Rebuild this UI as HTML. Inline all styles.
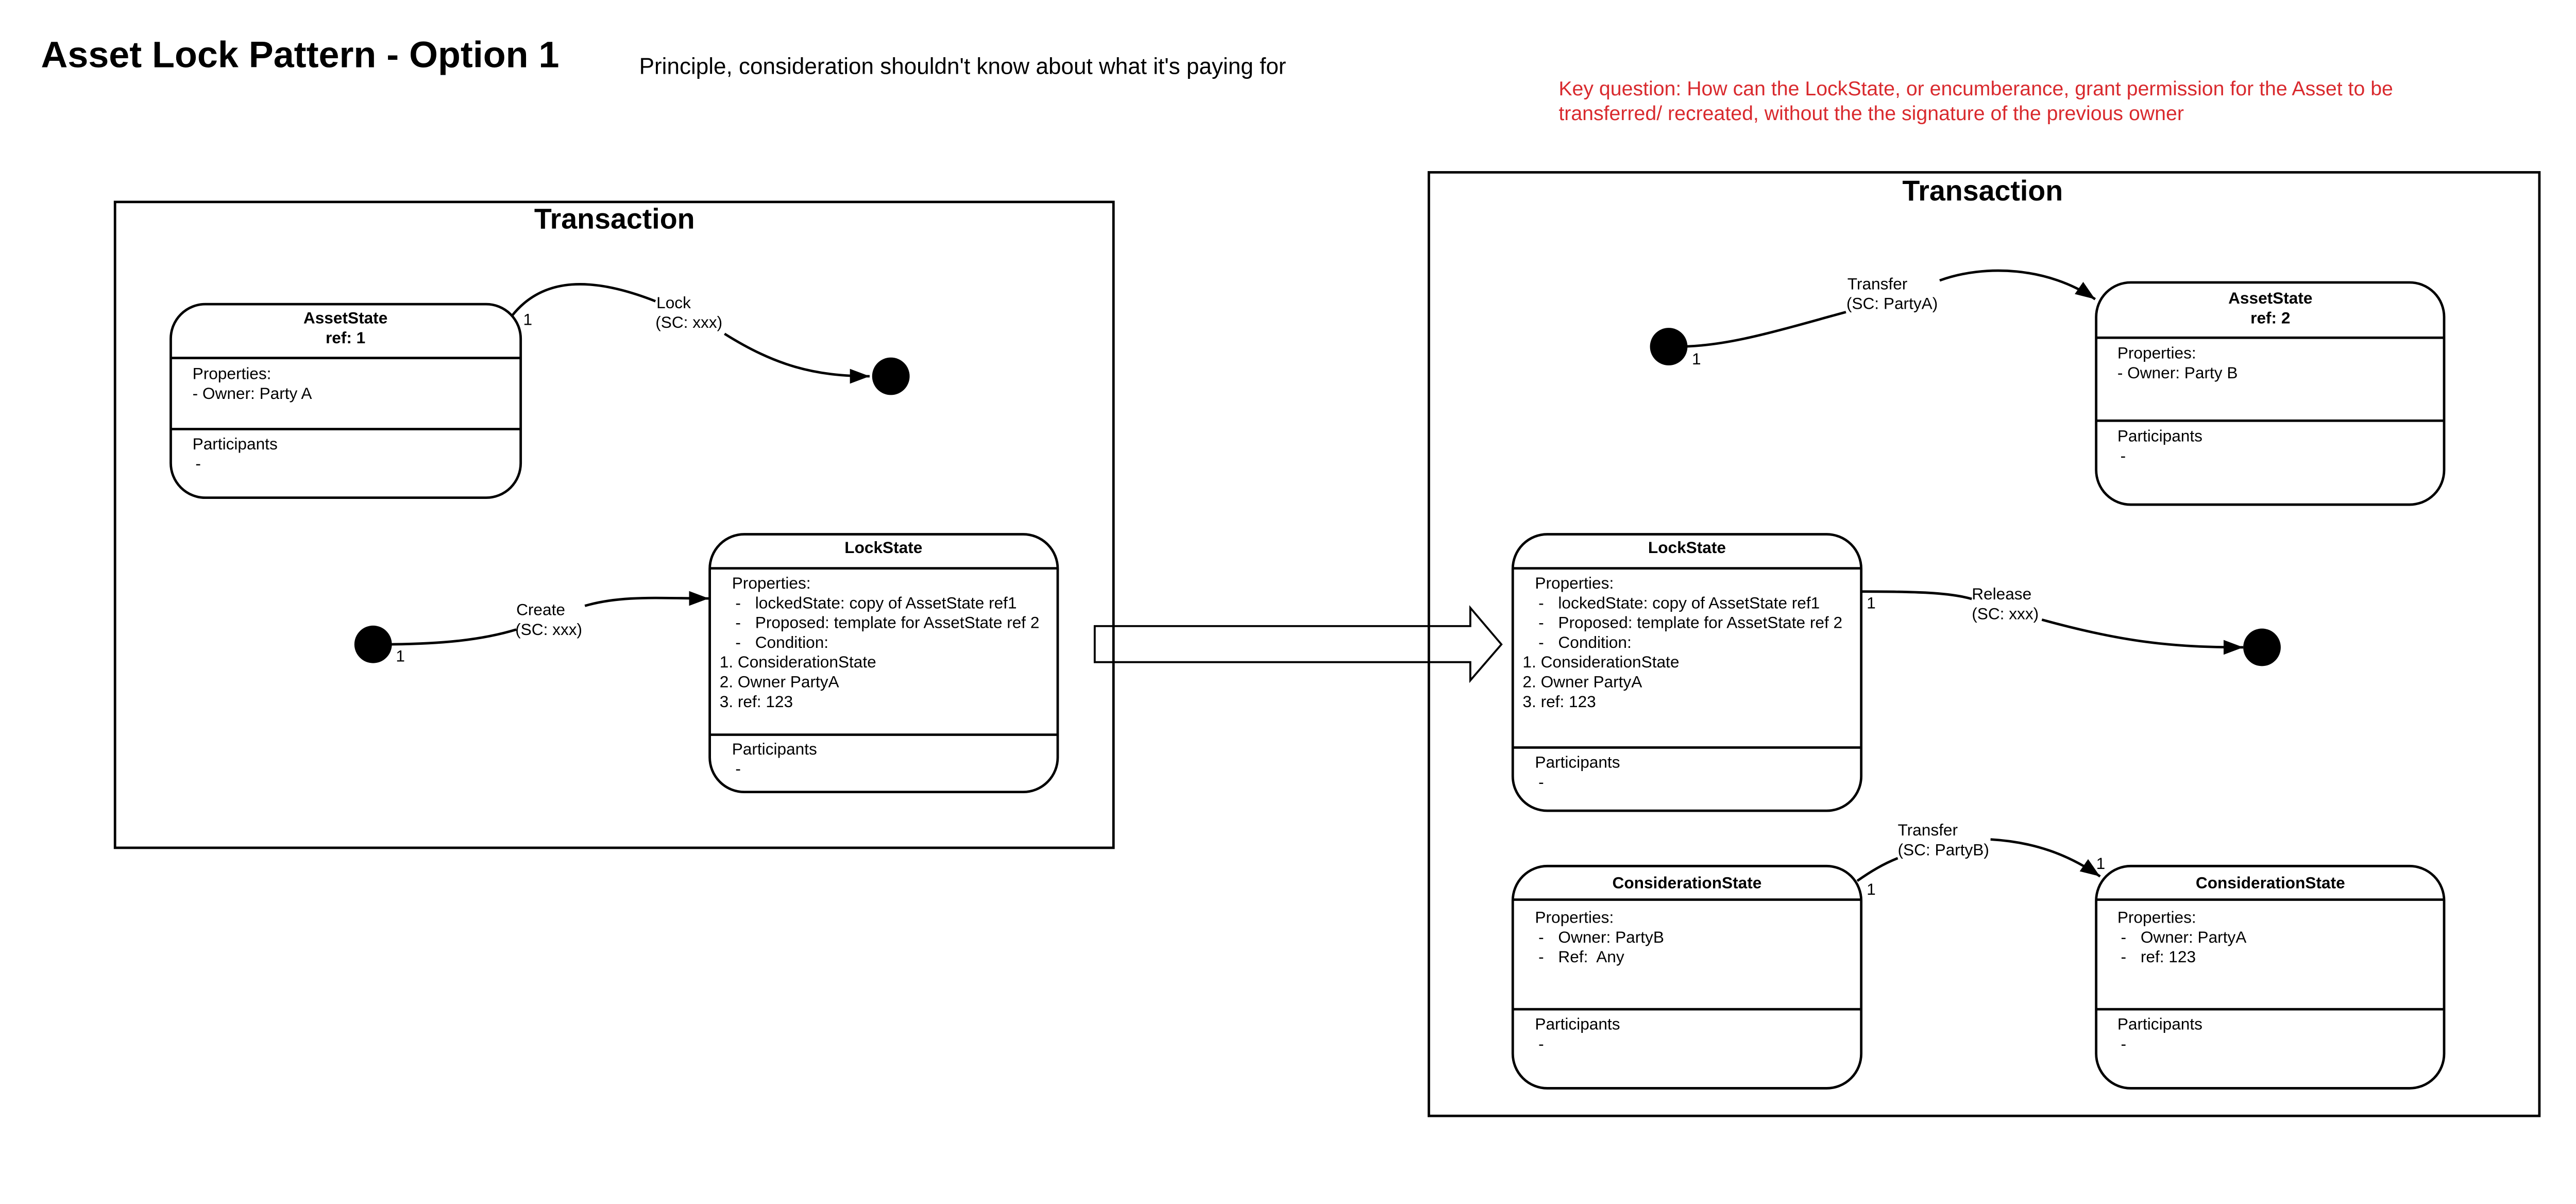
<!DOCTYPE html>
<html><head><meta charset="utf-8"><style>
html,body{margin:0;padding:0;background:#fff;}
svg{display:block;font-family:"Liberation Sans",sans-serif;}
</style></head><body>
<svg width="5218" height="2336" viewBox="0 0 5218 2336" xmlns="http://www.w3.org/2000/svg">
<defs>
<marker id="a" viewBox="0 0 10 10" refX="10" refY="5" markerWidth="40" markerHeight="30" markerUnits="userSpaceOnUse" orient="auto" preserveAspectRatio="none"><path d="M0,0 L10,5 L0,10 z" fill="#000"/></marker></defs>
<rect width="5218" height="2336" fill="#fff"/>
<g transform="scale(0.958)">
<text x="83" y="136" font-size="75" font-weight="bold">Asset Lock Pattern - Option 1</text>
<text x="1295" y="150" font-size="46">Principle, consideration shouldn't know about what it's paying for</text>
<text x="3158" y="193" font-size="41" fill="#d92a2e">Key question: How can the LockState, or encumberance, grant permission for the Asset to be</text>
<text x="3158" y="243" font-size="41" fill="#d92a2e">transferred/ recreated, without the the signature of the previous owner</text>

<g fill="none" stroke="#000" stroke-width="5">
<rect x="233" y="409" width="2023" height="1308"/>
<rect x="2895" y="349" width="2250" height="1911"/>
<rect x="346" y="616" width="709" height="392" rx="70"/>
<line x1="346" y1="725" x2="1055" y2="725"/><line x1="346" y1="869" x2="1055" y2="869"/>
<rect x="1438" y="1082" width="705" height="522" rx="70"/>
<line x1="1438" y1="1151" x2="2143" y2="1151"/><line x1="1438" y1="1488" x2="2143" y2="1488"/>
<rect x="4247" y="572" width="705" height="450" rx="70"/>
<line x1="4247" y1="684" x2="4952" y2="684"/><line x1="4247" y1="852" x2="4952" y2="852"/>
<rect x="3065" y="1082" width="706" height="560" rx="70"/>
<line x1="3065" y1="1151" x2="3771" y2="1151"/><line x1="3065" y1="1514" x2="3771" y2="1514"/>
<rect x="3065" y="1754" width="706" height="450" rx="70"/>
<line x1="3065" y1="1822" x2="3771" y2="1822"/><line x1="3065" y1="2044" x2="3771" y2="2044"/>
<rect x="4247" y="1754" width="705" height="450" rx="70"/>
<line x1="4247" y1="1822" x2="4952" y2="1822"/><line x1="4247" y1="2044" x2="4952" y2="2044"/>
<path d="M2218,1268 L2979,1268 L2979,1231 L3042,1305 L2979,1378 L2979,1341 L2218,1341 Z" stroke-width="4"/>
<path d="M1037,640 C1100,560 1200,560 1328,610"/>
<path d="M1468,676 C1570,740 1650,762 1762,762" marker-end="url(#a)"/>
<path d="M770,1305 C900,1305 980,1295 1046,1275"/>
<path d="M1185,1227 C1260,1205 1340,1212 1436,1212" marker-end="url(#a)"/>
<path d="M3398,702 C3500,702 3600,670 3740,632"/>
<path d="M3930,568 C4020,535 4150,540 4245,606" marker-end="url(#a)"/>
<path d="M3773,1198 C3880,1198 3950,1200 3995,1213"/>
<path d="M4137,1255 C4300,1300 4400,1311 4545,1311" marker-end="url(#a)"/>
<path d="M3763,1784 C3790,1765 3815,1750 3845,1738"/>
<path d="M4033,1700 C4120,1705 4190,1730 4255,1775" marker-end="url(#a)"/>
</g>
<g fill="#000">
<circle cx="1805" cy="762" r="38"/>
<circle cx="756" cy="1305" r="38"/>
<circle cx="3381" cy="702" r="38"/>
<circle cx="4583" cy="1311" r="38"/>
</g>
<g font-size="58" font-weight="bold" text-anchor="middle">
<text x="1245" y="463">Transaction</text>
<text x="4017" y="406">Transaction</text>
</g>
<g font-size="33" font-weight="bold" text-anchor="middle">
<text x="700" y="655">AssetState</text><text x="700" y="695">ref: 1</text>
<text x="1790" y="1120">LockState</text>
<text x="4600" y="615">AssetState</text><text x="4600" y="655">ref: 2</text>
<text x="3418" y="1120">LockState</text>
<text x="3418" y="1799">ConsiderationState</text>
<text x="4600" y="1799">ConsiderationState</text>
</g>
<g font-size="33">
<text x="390" y="768">Properties:</text><text x="390" y="808">- Owner: Party A</text>
<text x="390" y="910">Participants</text><text x="396" y="950">-</text>
<text x="1483" y="1192">Properties:</text>
<text x="1490" y="1232">-</text><text x="1530" y="1232">lockedState: copy of AssetState ref1</text>
<text x="1490" y="1272">-</text><text x="1530" y="1272">Proposed: template for AssetState ref 2</text>
<text x="1490" y="1312">-</text><text x="1530" y="1312">Condition:</text>
<text x="1458" y="1352">1. ConsiderationState</text>
<text x="1458" y="1392">2. Owner PartyA</text>
<text x="1458" y="1432">3. ref: 123</text>
<text x="1483" y="1528">Participants</text><text x="1490" y="1568">-</text>
<text x="4290" y="726">Properties:</text><text x="4290" y="766">- Owner: Party B</text>
<text x="4290" y="894">Participants</text><text x="4296" y="934">-</text>
<text x="3110" y="1192">Properties:</text>
<text x="3117" y="1232">-</text><text x="3157" y="1232">lockedState: copy of AssetState ref1</text>
<text x="3117" y="1272">-</text><text x="3157" y="1272">Proposed: template for AssetState ref 2</text>
<text x="3117" y="1312">-</text><text x="3157" y="1312">Condition:</text>
<text x="3085" y="1352">1. ConsiderationState</text>
<text x="3085" y="1392">2. Owner PartyA</text>
<text x="3085" y="1432">3. ref: 123</text>
<text x="3110" y="1555">Participants</text><text x="3117" y="1595">-</text>
<text x="3110" y="1869">Properties:</text>
<text x="3117" y="1909">-</text><text x="3157" y="1909">Owner: PartyB</text>
<text x="3117" y="1949">-</text><text x="3157" y="1949">Ref:&#160; Any</text>
<text x="3110" y="2085">Participants</text><text x="3117" y="2125">-</text>
<text x="4290" y="1869">Properties:</text>
<text x="4297" y="1909">-</text><text x="4337" y="1909">Owner: PartyA</text>
<text x="4297" y="1949">-</text><text x="4337" y="1949">ref: 123</text>
<text x="4290" y="2085">Participants</text><text x="4297" y="2125">-</text>
<text x="1330" y="624">Lock</text><text x="1328" y="664">(SC: xxx)</text>
<text x="1046" y="1246">Create</text><text x="1044" y="1286">(SC: xxx)</text>
<text x="3743" y="586">Transfer</text><text x="3741" y="626">(SC: PartyA)</text>
<text x="3995" y="1214">Release</text><text x="3995" y="1254">(SC: xxx)</text>
<text x="3845" y="1692">Transfer</text><text x="3845" y="1732">(SC: PartyB)</text>
<text x="1060" y="658">1</text>
<text x="802" y="1340">1</text>
<text x="3428" y="738">1</text>
<text x="3782" y="1232">1</text>
<text x="3782" y="1812">1</text>
<text x="4247" y="1760">1</text>
</g>
</g>
</svg>
</body></html>
